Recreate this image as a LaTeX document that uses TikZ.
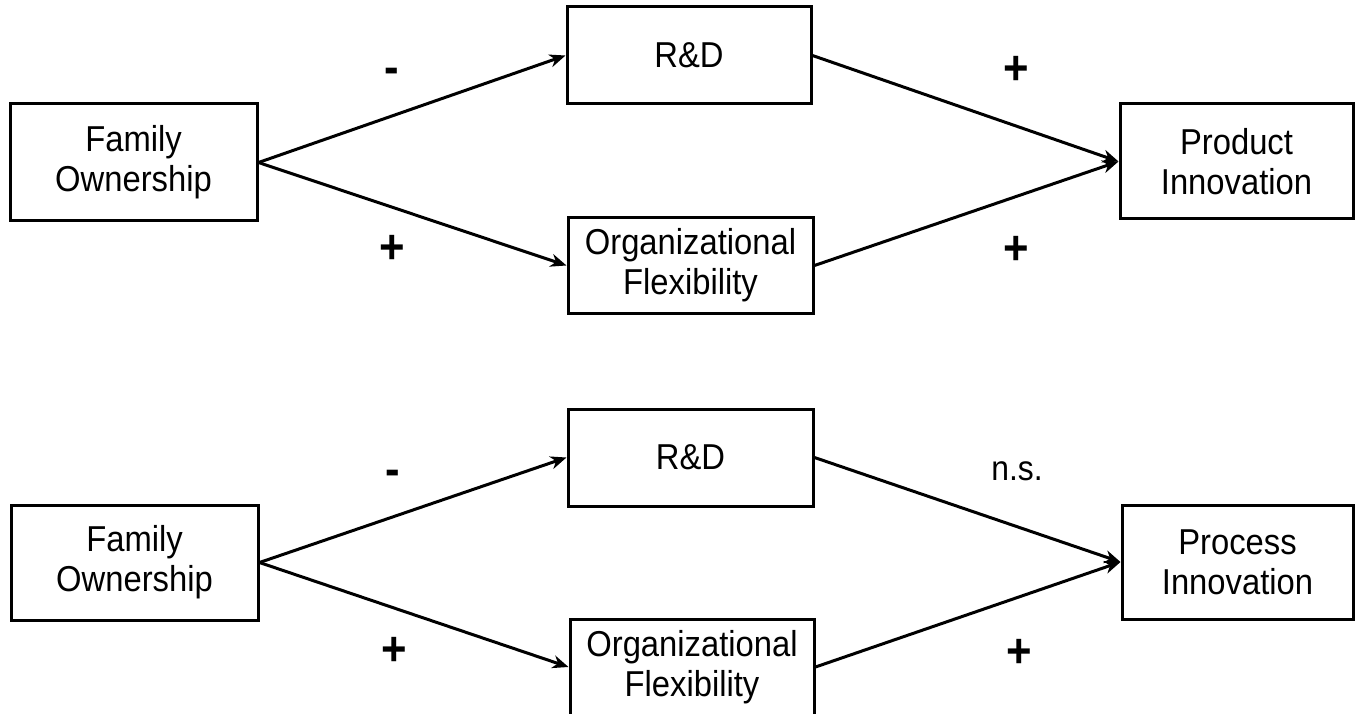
\documentclass[tikz,border=0pt]{standalone}
\usepackage{fontspec}
\setmainfont{Liberation Sans}[FakeStretch=0.91]
\usetikzlibrary{arrows.meta}
\begin{document}
\begin{tikzpicture}[x=1pt,y=-1pt,
  box/.style={draw, line width=3pt, align=center, inner sep=0pt,
    font=\fontsize{36}{40}\selectfont},
  conn/.style={line width=3pt, -{Stealth[length=16pt,width=13pt,inset=5pt]}},
  sign/.style={font=\fontsize{48}{48}\selectfont\bfseries, inner sep=0pt, anchor=base},
  lbl/.style={font=\fontsize{35}{40}\selectfont, inner sep=0pt, anchor=base}]
\useasboundingbox (0,0) rectangle (1355,714);
% top diagram
\node[box, minimum width=247pt, minimum height=117pt] (fam) at (133.5,162.5) {Family\\Ownership};
\node[box, minimum width=244pt, minimum height=97pt] (rd) at (689,55.5) {R\&D};
\node[box, minimum width=245pt, minimum height=95pt] (org) at (690.5,265.5) {Organizational\\Flexibility};
\node[box, minimum width=233pt, minimum height=115pt] (prod) at (1236.5,161.5) {Product\\Innovation};
\draw[conn] (fam.east) -- (rd.west);
\draw[conn] (fam.east) -- (org.west);
\draw[conn] (rd.east) -- (prod.west);
\draw[conn] (org.east) -- (prod.west);
\node[sign] (m1) at (391.5,84) {-};
\node[sign] (p1) at (392.5,263) {+};
\node[sign] (p2) at (1016,85) {+};
\node[sign] (p3) at (1016,265) {+};
% bottom diagram
\node[box, minimum width=247pt, minimum height=115pt] (fam2) at (134.5,562.5) {Family\\Ownership};
\node[box, minimum width=245pt, minimum height=97pt] (rd2) at (690.5,457.5) {R\&D};
\node[box, minimum width=244pt, minimum height=96pt] (org2) at (692,667) {Organizational\\Flexibility};
\node[box, minimum width=231pt, minimum height=114pt] (proc) at (1237.5,562) {Process\\Innovation};
\draw[conn] (fam2.east) -- (rd2.west);
\draw[conn] (fam2.east) -- (org2.west);
\draw[conn] (rd2.east) -- (proc.west);
\draw[conn] (org2.east) -- (proc.west);
\node[sign] (m2) at (393,485.5) {-};
\node[sign] (p4) at (394,665) {+};
\node[sign] (p5) at (1019,667) {+};
\node[lbl] (ns) at (1017,480) {n.s.};
\end{tikzpicture}
\end{document}
